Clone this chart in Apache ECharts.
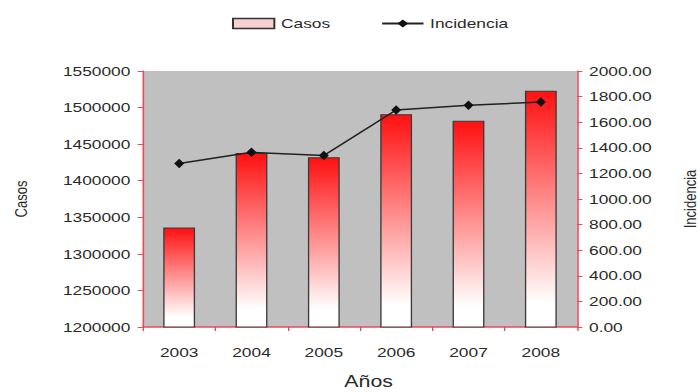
<!DOCTYPE html>
<html>
<head>
<meta charset="utf-8">
<script src="https://cdn.jsdelivr.net/npm/echarts@6/dist/echarts.min.js"></script>
<style>
html,body{margin:0;padding:0;background:#fff;overflow:hidden}
#wrap{width:700px;height:392px;overflow:hidden}
#c{width:525px;height:392px;transform:scaleX(1.33333);transform-origin:0 0}
</style>
</head>
<body>
<div id="wrap"><div id="c"></div></div>
<script>
var years = ['2003','2004','2005','2006','2007','2008'];
var casos = [1336000, 1438000, 1432000, 1491000, 1482000, 1523000];
var incidencia = [1278, 1365, 1340, 1695, 1732, 1758];

var FONT = '"Liberation Sans", Arial, sans-serif';
var RED = '#ea4a5a';
var TXT = '#2a2a2a';
var chart = echarts.init(document.getElementById('c'), null, {renderer: 'svg'});
chart.setOption({
  animation: false,
  textStyle: {fontFamily: FONT, color: TXT},
  legend: {
    top: 12, left: 169, itemGap: 38, itemWidth: 31, itemHeight: 10,
    textStyle: {fontFamily: FONT, fontSize: 13, color: TXT},
    data: [
      {name: 'Casos', icon: 'rect', itemStyle: {color: '#f9d0d0', borderColor: '#333', borderWidth: 1.5}},
      {name: 'Incidencia'}
    ]
  },
  grid: {left: 107.25, right: 92.25, top: 71, bottom: 65, show: true, backgroundColor: '#c0c0c0', borderWidth: 0,
    containLabel: false, outerBoundsMode: 'none'},
  xAxis: {
    type: 'category', data: years, boundaryGap: true,
    name: 'Años', nameLocation: 'middle', nameGap: 46,
    nameTextStyle: {fontFamily: FONT, fontSize: 16, color: TXT, padding: [0, 0, 0, 13]},
    axisLine: {lineStyle: {color: RED, width: 1.5}},
    axisTick: {show: true, alignWithLabel: false, length: 4, lineStyle: {color: RED}},
    axisLabel: {fontFamily: FONT, fontSize: 13, color: TXT, margin: 19}
  },
  yAxis: [
    {
      type: 'value', min: 1200000, max: 1550000, interval: 50000,
      name: 'Casos', nameLocation: 'middle', nameGap: 85, nameRotate: 90,
      nameTextStyle: {fontFamily: FONT, fontSize: 13, color: TXT},
      axisLine: {show: true, lineStyle: {color: RED, width: 1.2}},
      axisTick: {show: true, length: 4, lineStyle: {color: RED}},
      splitLine: {show: false},
      axisLabel: {fontFamily: FONT, fontSize: 13, color: TXT, margin: 9.5,
        formatter: function (v) { return String(v); }}
    },
    {
      type: 'value', min: 0, max: 2000, interval: 200, position: 'right',
      name: 'Incidencia', nameLocation: 'middle', nameGap: 78, nameRotate: 90,
      nameTextStyle: {fontFamily: FONT, fontSize: 13, color: TXT},
      axisLine: {show: true, lineStyle: {color: RED, width: 1.2}},
      axisTick: {show: true, length: 4, lineStyle: {color: RED}},
      splitLine: {show: false},
      axisLabel: {fontFamily: FONT, fontSize: 13, color: TXT, margin: 9,
        formatter: function (v) { return v.toFixed(2); }}
    }
  ],
  series: [
    {
      name: 'Casos', type: 'bar', yAxisIndex: 0, data: casos, barWidth: '44%',
      itemStyle: {
        color: new echarts.graphic.LinearGradient(0, 0, 0, 1, [
          {offset: 0, color: '#ff1010'},
          {offset: 0.9, color: '#ffffff'},
          {offset: 1, color: '#ffffff'}
        ]),
        borderColor: '#3a3a3a', borderWidth: 1
      }
    },
    {
      name: 'Incidencia', type: 'line', yAxisIndex: 1, data: incidencia,
      symbol: 'diamond', symbolSize: [7.5, 9.5],
      lineStyle: {color: '#222', width: 1.5},
      itemStyle: {color: '#111'}
    }
  ]
});
</script>
</body>
</html>
